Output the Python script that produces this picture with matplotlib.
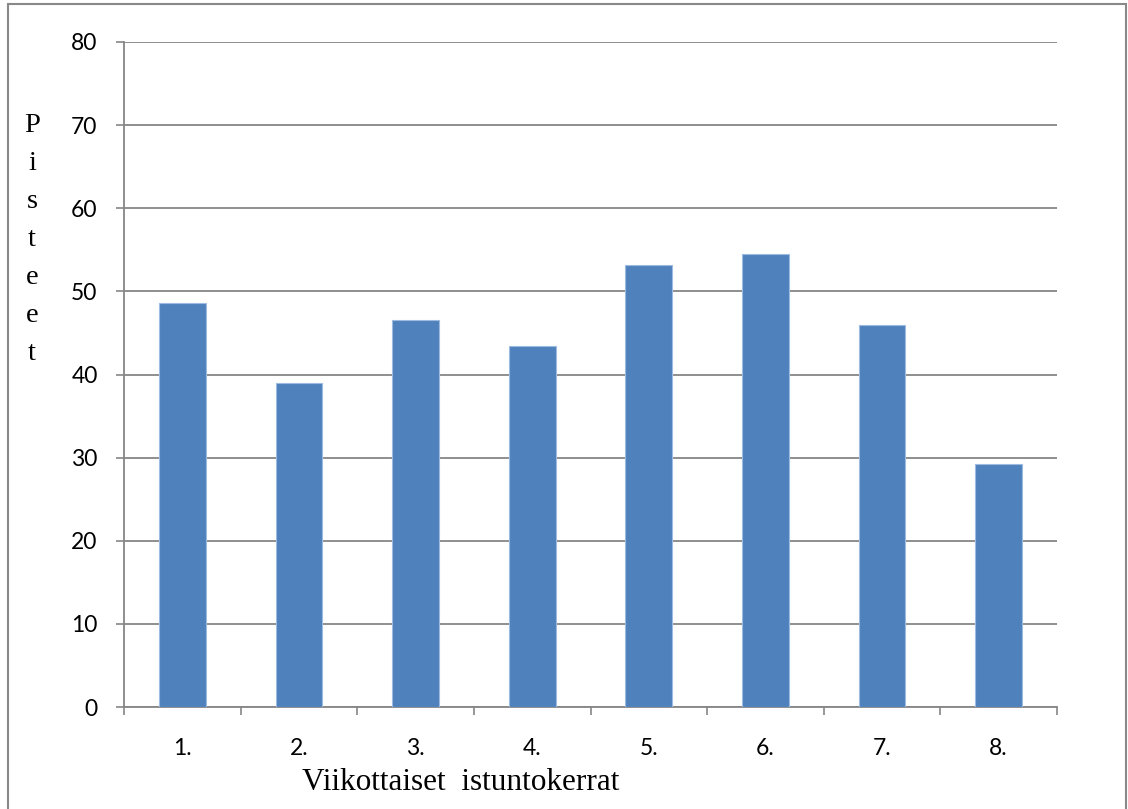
import matplotlib
matplotlib.use("Agg")
from matplotlib import pyplot as plt
from matplotlib.patches import Rectangle

# weekly sessions and their scores
sessions = ["1.", "2.", "3.", "4.", "5.", "6.", "7.", "8."]
scores = [48.6, 39.0, 46.6, 43.4, 53.2, 54.5, 45.9, 29.2]
y_ticks = [0, 10, 20, 30, 40, 50, 60, 70, 80]

GRID = "#868686"
BAR = "#4F81BD"

fig = plt.figure(figsize=(11.28, 8.09), dpi=100)
ax = fig.add_axes([124 / 1128, 1 - 707 / 809, (1057 - 124) / 1128, (707 - 42) / 809])

x = list(range(len(sessions)))
ax.bar(x, scores, width=0.4, color=BAR, edgecolor="#9DBBE0", linewidth=0.8, zorder=3)

ax.set_xlim(-0.5, len(sessions) - 0.5)
ax.set_ylim(0, 80)
ax.set_yticks(y_ticks)
ax.set_yticklabels([str(v) for v in y_ticks], fontsize=16.5, family="Lato")
ax.yaxis.grid(True, color=GRID, linewidth=1.3, zorder=0)
ax.tick_params(axis="y", length=6, width=1.2, color=GRID, pad=13)

# labels at category centers, tick marks at the boundaries
ax.set_xticks(x)
ax.set_xticklabels(sessions, fontsize=16.5, family="Lato")
ax.set_xticks([i - 0.5 for i in range(len(sessions) + 1)], minor=True)
ax.tick_params(axis="x", which="major", length=0, pad=22)
ax.tick_params(axis="x", which="minor", length=6, width=1.2, color=GRID)

for side in ["top", "right"]:
    ax.spines[side].set_visible(False)
for side in ["left", "bottom"]:
    ax.spines[side].set_color(GRID)
    ax.spines[side].set_linewidth(1.3)

fig.text(461 / 1128, 1 - 790 / 809, "Viikottaiset  istuntokerrat", ha="center", va="baseline",
         fontsize=22.5, family="Liberation Serif")
fig.text(32 / 1128, 1 - 360 / 809, "P\ni\ns\nt\ne\ne\nt", ha="center", va="baseline",
         fontsize=20.5, family="Liberation Serif", linespacing=1.68)

fig.patches.append(Rectangle((8 / 1128, -0.01), (1126 - 8) / 1128, 1 - 4 / 809 + 0.01,
                             transform=fig.transFigure, fill=False, edgecolor="#898989",
                             linewidth=1.5))

plt.savefig("out.png", dpi=100)
